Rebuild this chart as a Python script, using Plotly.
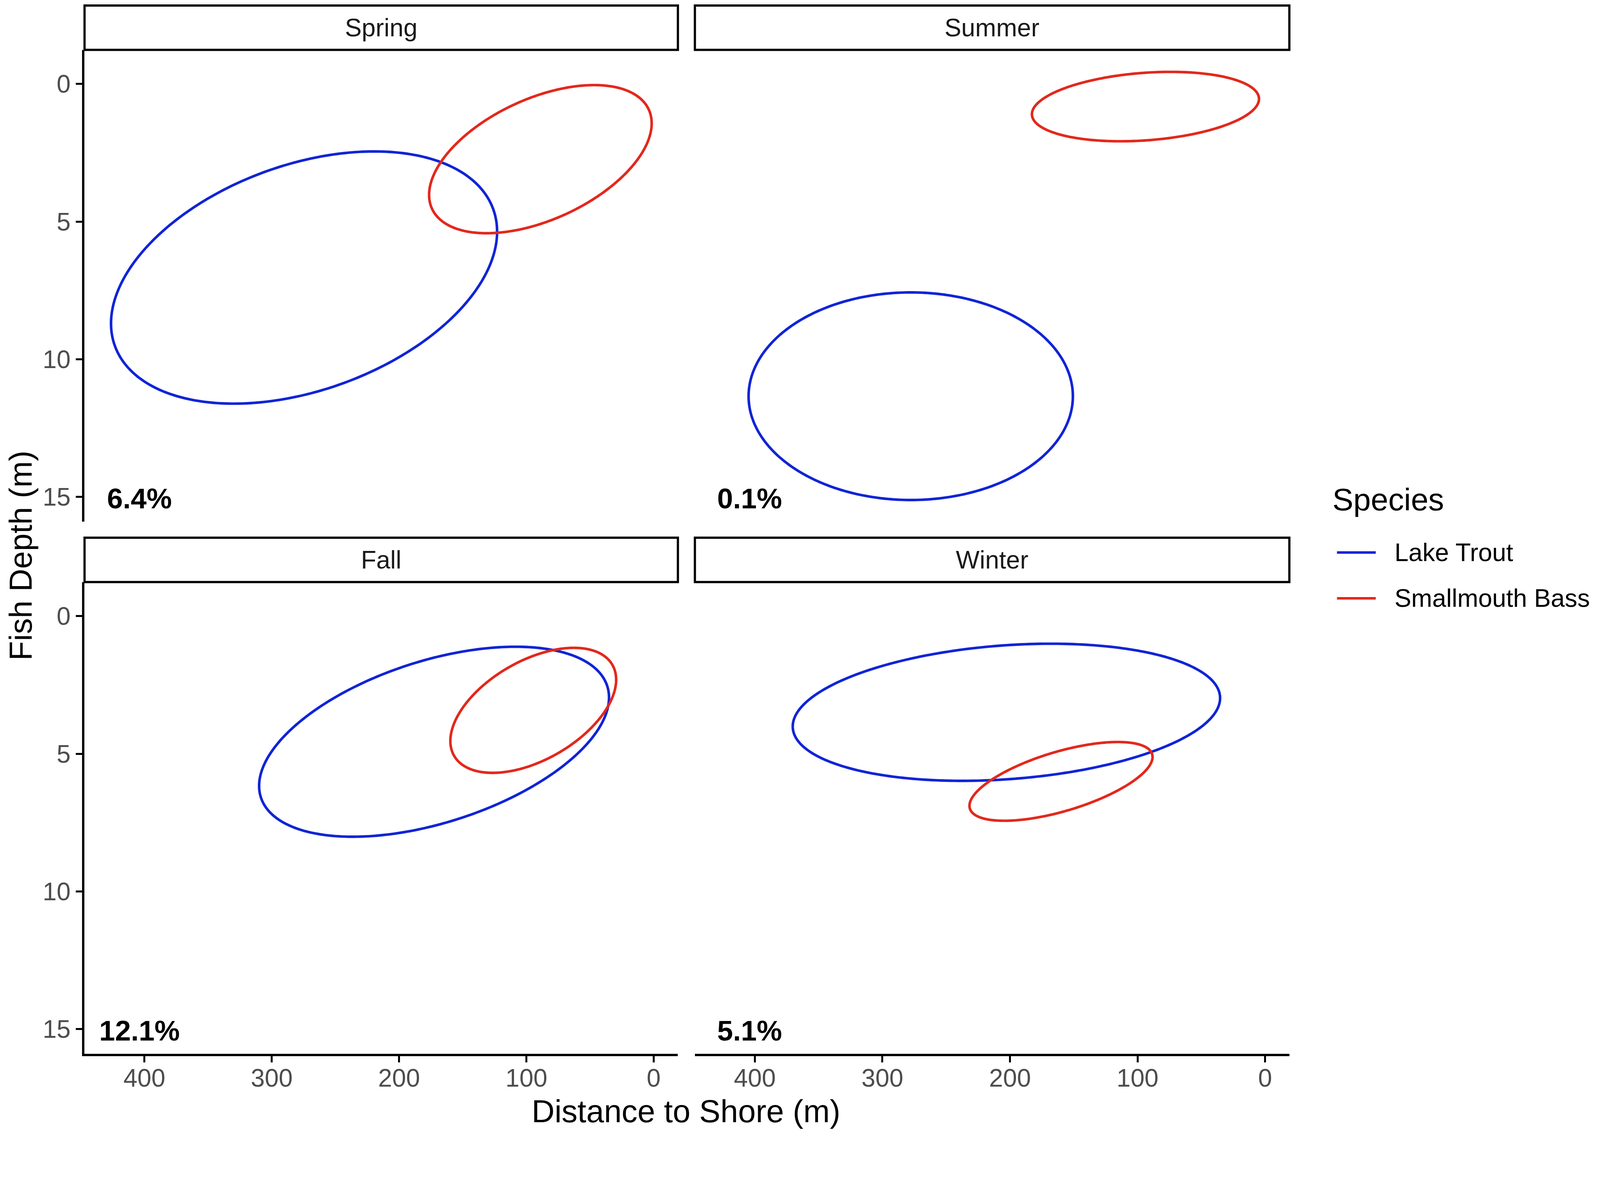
import numpy as np
import plotly.graph_objects as go

# data (ellipse centre, half extents, correlation)
seasons = ["Spring", "Summer", "Fall", "Winter"]
overlap = ["6.4%", "0.1%", "12.1%", "5.1%"]

trout_cx = [274.6, 277.8, 172.5, 202.8]
trout_cy = [7.03, 11.34, 4.56, 3.49]
trout_hx = [151.6, 127.1, 137.4, 167.5]
trout_hy = [4.58, 3.77, 3.45, 2.49]
trout_rho = [0.364, 0.0, 0.465, 0.207]

bass_cx = [89.0, 93.8, 94.6, 160.0]
bass_cy = [2.73, 0.82, 3.42, 6.0]
bass_hx = [87.4, 89.0, 65.1, 71.75]
bass_hy = [2.69, 1.26, 2.27, 1.43]
bass_rho = [0.483, 0.22, 0.49, 0.62]

x_ticks = [0, 100, 200, 300, 400]
y_ticks = [0, 5, 10, 15]

species = ["Lake Trout", "Smallmouth Bass"]
colors = ["#1024D6", "#E3281C"]

# the page comes out ~1.058x larger than the css size, so size everything down
S = 1 / 1.058
RW, RH = 4328, 3066
W, H = round(RW * S), round(RH * S)
OFF = 8.5


def fx(px):
    return (px - OFF) / RW


def fy(py):
    return 1 - (py - OFF) / RH


def sz(v):
    return v * S


xdom = [[fx(229), fx(1836)], [fx(1882), fx(3492)]]
ydom = [[fy(1412), fy(135)], [fy(2853), fy(1576)]]
strip_y = [[fy(135), fy(15)], [fy(1576), fy(1456)]]


def ellipse(cx, cy, hx, hy, rho, n=361):
    t = np.linspace(0, 2 * np.pi, n)
    x = cx + hx * np.cos(t)
    y = cy + hy * (rho * np.cos(t) + np.sqrt(1 - rho ** 2) * np.sin(t))
    return x, y


fig = go.Figure()
layout = dict(
    width=W, height=H,
    margin=dict(l=0, r=0, t=0, b=0),
    paper_bgcolor="white", plot_bgcolor="white",
    font=dict(family="Liberation Sans, Arial, sans-serif", color="black"),
    showlegend=False,
)

shapes = []
annotations = []

for i, s in enumerate(seasons):
    col, row = i % 2, i // 2
    k = "" if i == 0 else str(i + 1)
    xa, ya = "x" + k, "y" + k

    for j, (cx, cy, hx, hy, rho) in enumerate([
        (trout_cx[i], trout_cy[i], trout_hx[i], trout_hy[i], trout_rho[i]),
        (bass_cx[i], bass_cy[i], bass_hx[i], bass_hy[i], bass_rho[i]),
    ]):
        ex, ey = ellipse(cx, cy, hx, hy, rho)
        fig.add_trace(go.Scatter(x=ex, y=ey, mode="lines", name=species[j],
                                 line=dict(color=colors[j], width=sz(7), simplify=False),
                                 xaxis=xa, yaxis=ya, hoverinfo="skip"))

    left = col == 0
    bottom = row == 1
    layout["xaxis" + k] = dict(
        domain=xdom[col], anchor=ya, range=[447, -19],
        showgrid=False, zeroline=False,
        showline=bottom, linecolor="black", linewidth=sz(6),
        ticks="outside" if bottom else "", ticklen=sz(18), tickwidth=sz(5),
        tickcolor="black", tickvals=x_ticks, showticklabels=bottom,
        ticklabelstandoff=round(sz(-17)),
        tickfont=dict(size=sz(68), color="#4D4D4D"),
    )
    layout["yaxis" + k] = dict(
        domain=ydom[row], anchor=xa, range=[15.89, -1.24],
        showgrid=False, zeroline=False,
        showline=left, linecolor="black", linewidth=sz(6),
        ticks="outside" if left else "", ticklen=sz(18), tickwidth=sz(5),
        tickcolor="black", tickvals=y_ticks, showticklabels=left,
        tickfont=dict(size=sz(68), color="#4D4D4D"),
    )

    # facet strip
    shapes.append(dict(type="rect", xref="paper", yref="paper",
                       x0=xdom[col][0], x1=xdom[col][1],
                       y0=strip_y[row][0], y1=strip_y[row][1],
                       line=dict(color="black", width=sz(6)), fillcolor="white"))
    annotations.append(dict(text=s, xref="paper", yref="paper",
                            x=sum(xdom[col]) / 2, y=sum(strip_y[row]) / 2,
                            xanchor="center", yanchor="middle", showarrow=False,
                            font=dict(size=sz(68), color="#1A1A1A")))
    # overlap label
    annotations.append(dict(text="<b>" + overlap[i] + "</b>", xref=xa, yref=ya,
                            x=404, y=15.05, xanchor="center", yanchor="middle",
                            showarrow=False, font=dict(size=sz(77), color="black")))

# axis titles
annotations.append(dict(text="Distance to Shore (m)", xref="paper", yref="paper",
                        x=fx(1858), y=fy(3008), xanchor="center", yanchor="middle",
                        showarrow=False, font=dict(size=sz(86))))
annotations.append(dict(text="Fish Depth (m)", xref="paper", yref="paper",
                        x=fx(56), y=fy(1504), xanchor="center", yanchor="middle",
                        textangle=-90, showarrow=False, font=dict(size=sz(86))))

# legend
annotations.append(dict(text="Species", xref="paper", yref="paper",
                        x=fx(3606), y=fy(1352), xanchor="left", yanchor="middle",
                        showarrow=False, font=dict(size=sz(85))))
leg_y = [1496, 1620]
for j, name in enumerate(species):
    shapes.append(dict(type="line", xref="paper", yref="paper",
                       x0=fx(3621), x1=fx(3726), y0=fy(leg_y[j]), y1=fy(leg_y[j]),
                       line=dict(color=colors[j], width=sz(7))))
    annotations.append(dict(text=name, xref="paper", yref="paper",
                            x=fx(3775), y=fy(leg_y[j]), xanchor="left", yanchor="middle",
                            showarrow=False, font=dict(size=sz(68))))

layout["shapes"] = shapes
layout["annotations"] = annotations
fig.update_layout(**layout)

fig.write_html("out.html")
